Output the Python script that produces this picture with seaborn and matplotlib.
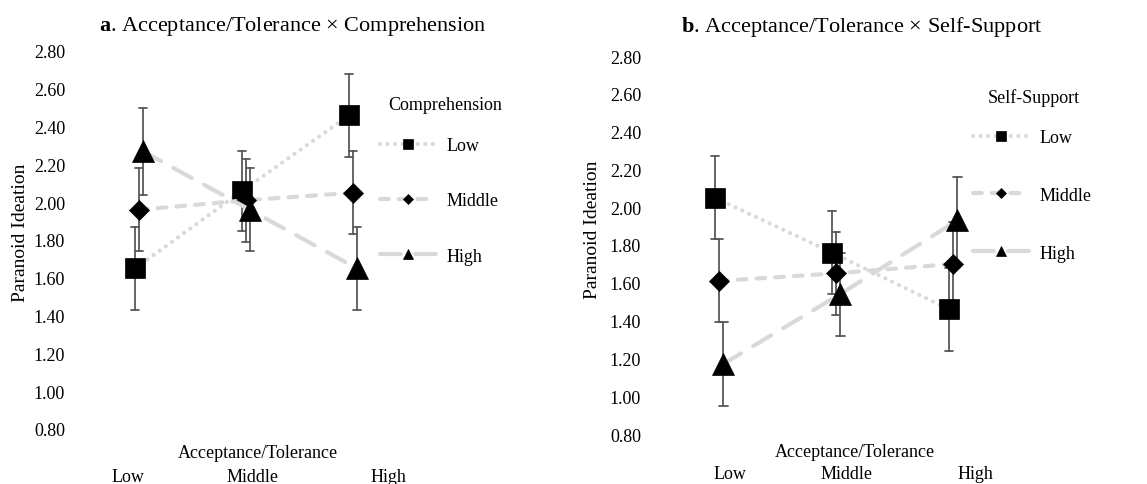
import numpy as np
import pandas as pd
import matplotlib
matplotlib.use("Agg")
import matplotlib.pyplot as plt
import seaborn as sns

# ---- data ----
levels = ["Low", "Middle", "High"]            # x categories: Acceptance/Tolerance
moderator_levels = ["Low", "Middle", "High"]  # hue levels

# a) Acceptance/Tolerance x Comprehension
comp_low = [1.65, 2.06, 2.46]
comp_mid = [1.96, 2.01, 2.05]
comp_high = [2.27, 1.96, 1.65]
comp_low_se = [0.22, 0.21, 0.22]
comp_mid_se = [0.22, 0.22, 0.22]
comp_high_se = [0.23, 0.22, 0.22]

# b) Acceptance/Tolerance x Self-Support
self_low = [2.05, 1.76, 1.46]
self_mid = [1.61, 1.65, 1.70]
self_high = [1.17, 1.54, 1.93]
self_low_se = [0.22, 0.22, 0.22]
self_mid_se = [0.22, 0.22, 0.22]
self_high_se = [0.22, 0.22, 0.23]

y_ticks = [0.8, 1.0, 1.2, 1.4, 1.6, 1.8, 2.0, 2.2, 2.4, 2.6, 2.8]

# ---- style ----
sns.set_theme(style="white")
plt.rcParams.update({
    "font.family": ["Liberation Serif", "DejaVu Serif"],
    "mathtext.fontset": "custom",
    "mathtext.rm": "Liberation Serif",
    "mathtext.bf": "Liberation Serif:bold",
    "text.color": "black",
    "axes.labelcolor": "black",
    "xtick.color": "black",
    "ytick.color": "black",
    "axes.spines.left": False, "axes.spines.right": False,
    "axes.spines.top": False, "axes.spines.bottom": False,
})

LINE_GREY = "#D9D9D9"
ERR_GREY = "#595959"
MARKERS = ["s", "D", "^"]
MSIZE = {"s": 14.5, "D": 10.5, "^": 15.5}
LEG_MSIZE = {"s": 6.5, "D": 5, "^": 6.5}
LSTYLES = [(0, (0.01, 1.8)), (0, (2.1, 2.4)), (0, (5.0, 3.4))]

W, H = 1147, 485
fig = plt.figure(figsize=(W / 100, H / 100), dpi=100)
fig.patch.set_facecolor("white")


def px_axes(left, right, top, bottom):
    return fig.add_axes([left / W, 1 - bottom / H, (right - left) / W, (bottom - top) / H])


def long_frame(means, ses):
    # each (x, hue) cell as two rows: mean-se and mean+se -> estimator gives the mean,
    # errorbar callable gives the interval
    rows = []
    for lvl, m_list, s_list in zip(moderator_levels, means, ses):
        for x, m, s in zip(levels, m_list, s_list):
            rows.append({"x": x, "hue": lvl, "y": m - s})
            rows.append({"x": x, "hue": lvl, "y": m + s})
    return pd.DataFrame(rows)


def draw_panel(ax, df, letter, title, legend_title, xlim, tick_pos, tick_pad,
               xlab_pos, ylab_pos, title_xy, legend_xy, legtitle_xy, leg_spacing):
    sns.pointplot(
        data=df, x="x", y="y", hue="hue", order=levels, hue_order=moderator_levels,
        palette=[LINE_GREY] * 3, markers=MARKERS, linestyles=LSTYLES,
        estimator="mean", errorbar=lambda v: (v.min(), v.max()),
        dodge=0.07, capsize=0.075,
        err_kws={"color": ERR_GREY, "linewidth": 1.3},
        linewidth=3, markerfacecolor="black", markeredgecolor="black",
        markeredgewidth=0.5, dash_capstyle="round", solid_capstyle="round",
        legend=False, ax=ax,
    )
    main_lines = [ln for ln in ax.lines if ln.get_marker() not in ("None", None, "")]
    for ln in main_lines:
        ln.set_markersize(MSIZE[ln.get_marker()])
        ln.set_zorder(3)

    ax.set_ylim(0.8, 2.8)
    ax.set_yticks(y_ticks)
    ax.set_yticklabels([f"{t:.2f}" for t in y_ticks])
    ax.set_xlim(*xlim)
    ax.set_xticks(tick_pos)
    ax.set_xticklabels(levels)
    ax.tick_params(axis="y", labelsize=13, pad=5, length=0)
    ax.tick_params(axis="x", labelsize=13, pad=tick_pad, length=0)
    ax.grid(False)

    ax.set_xlabel("Acceptance/Tolerance", fontsize=13)
    ax.xaxis.set_label_coords(*xlab_pos)
    ax.set_ylabel("Paranoid Ideation", fontsize=14)
    ax.yaxis.set_label_coords(*ylab_pos)

    fig.text(title_xy[0] / W, 1 - title_xy[1] / H, rf"$\mathbf{{{letter}}}$. {title}",
             ha="center", va="center", fontsize=16)

    leg = ax.legend(main_lines, moderator_levels,
                    loc="upper left", bbox_to_anchor=(legend_xy[0] / W, 1 - legend_xy[1] / H),
                    bbox_transform=fig.transFigure, frameon=False, fontsize=13,
                    handlelength=3.1, handletextpad=0.6,
                    labelspacing=leg_spacing, borderpad=0, borderaxespad=0)
    for h in leg.legend_handles:
        h.set_markersize(LEG_MSIZE[h.get_marker()])
    fig.text(legtitle_xy[0] / W, 1 - legtitle_xy[1] / H, legend_title,
             ha="left", va="center", fontsize=13)


# panel a
ax_a = px_axes(72, 400, 52, 430)
draw_panel(ax_a, long_frame([comp_low, comp_mid, comp_high],
                            [comp_low_se, comp_mid_se, comp_high_se]),
           "a", "Acceptance/Tolerance × Comprehension", "Comprehension",
           xlim=(-0.626, 2.439), tick_pos=[-0.10, 1.06, 2.33], tick_pad=28,
           xlab_pos=(0.567, -0.040), ylab_pos=(-0.130, 0.521),
           title_xy=(293, 27), legend_xy=(380, 138), legtitle_xy=(388, 105),
           leg_spacing=2.12)

# panel b
ax_b = px_axes(648, 990, 57, 435)
draw_panel(ax_b, long_frame([self_low, self_mid, self_high],
                            [self_low_se, self_mid_se, self_high_se]),
           "b", "Acceptance/Tolerance × Self-Support", "Self-Support",
           xlim=(-0.607, 2.316), tick_pos=[0.09, 1.09, 2.19], tick_pad=22,
           xlab_pos=(0.605, -0.024), ylab_pos=(-0.137, 0.542),
           title_xy=(862, 27), legend_xy=(973, 130), legtitle_xy=(988, 98),
           leg_spacing=2.26)

fig.savefig("out.png", dpi=100)
